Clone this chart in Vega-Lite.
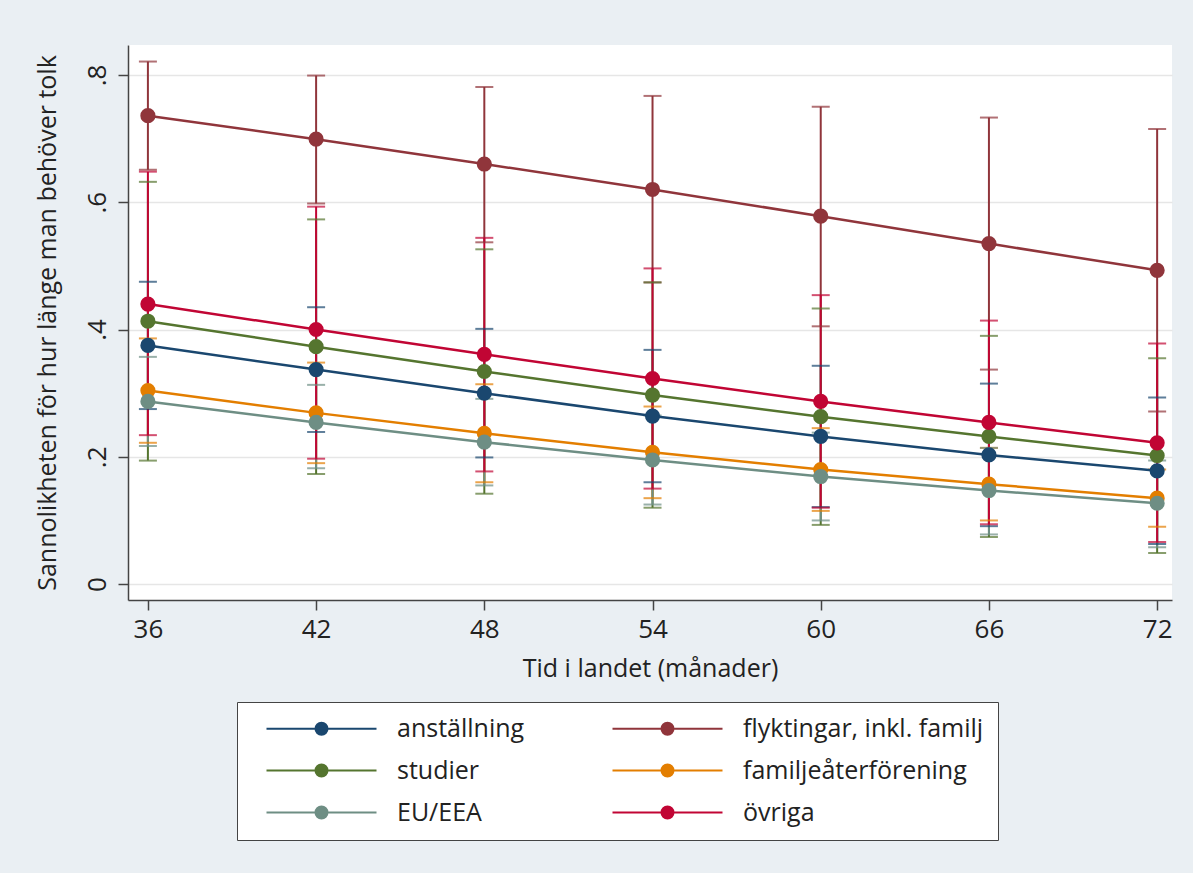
{
  "$schema": "https://vega.github.io/schema/vega-lite/v6.json",
  "width": 1044,
  "height": 555,
  "autosize": "none",
  "padding": {"left": 128, "top": 45, "right": 21, "bottom": 273},
  "background": "#eaeff3",
  "config": {
    "view": {"fill": "white", "stroke": null},
    "font": "Open Sans",
    "axis": {"labelColor": "#222", "titleColor": "#222", "domainColor": "#444", "tickColor": "#444", "domainWidth": 1.5, "tickWidth": 1.5, "tickSize": 10, "labelFontWeight": "normal", "titleFontWeight": "normal"}
  },
  "data": {"values": [
    {"g": "anställning", "t": 36, "p": 0.375, "lo": 0.275, "hi": 0.475},
    {"g": "anställning", "t": 42, "p": 0.337, "lo": 0.239, "hi": 0.435},
    {"g": "anställning", "t": 48, "p": 0.300, "lo": 0.199, "hi": 0.401},
    {"g": "anställning", "t": 54, "p": 0.264, "lo": 0.160, "hi": 0.368},
    {"g": "anställning", "t": 60, "p": 0.232, "lo": 0.121, "hi": 0.343},
    {"g": "anställning", "t": 66, "p": 0.203, "lo": 0.091, "hi": 0.315},
    {"g": "anställning", "t": 72, "p": 0.178, "lo": 0.063, "hi": 0.293},
    {"g": "flyktingar, inkl. familj", "t": 36, "p": 0.736, "lo": 0.651, "hi": 0.821},
    {"g": "flyktingar, inkl. familj", "t": 42, "p": 0.699, "lo": 0.598, "hi": 0.799},
    {"g": "flyktingar, inkl. familj", "t": 48, "p": 0.660, "lo": 0.537, "hi": 0.781},
    {"g": "flyktingar, inkl. familj", "t": 54, "p": 0.620, "lo": 0.474, "hi": 0.767},
    {"g": "flyktingar, inkl. familj", "t": 60, "p": 0.578, "lo": 0.405, "hi": 0.750},
    {"g": "flyktingar, inkl. familj", "t": 66, "p": 0.535, "lo": 0.337, "hi": 0.733},
    {"g": "flyktingar, inkl. familj", "t": 72, "p": 0.493, "lo": 0.271, "hi": 0.715},
    {"g": "studier", "t": 36, "p": 0.413, "lo": 0.194, "hi": 0.632},
    {"g": "studier", "t": 42, "p": 0.373, "lo": 0.173, "hi": 0.573},
    {"g": "studier", "t": 48, "p": 0.334, "lo": 0.142, "hi": 0.526},
    {"g": "studier", "t": 54, "p": 0.297, "lo": 0.120, "hi": 0.474},
    {"g": "studier", "t": 60, "p": 0.263, "lo": 0.093, "hi": 0.433},
    {"g": "studier", "t": 66, "p": 0.232, "lo": 0.074, "hi": 0.390},
    {"g": "studier", "t": 72, "p": 0.202, "lo": 0.049, "hi": 0.355},
    {"g": "familjeåterförening", "t": 36, "p": 0.304, "lo": 0.222, "hi": 0.386},
    {"g": "familjeåterförening", "t": 42, "p": 0.269, "lo": 0.190, "hi": 0.348},
    {"g": "familjeåterförening", "t": 48, "p": 0.237, "lo": 0.160, "hi": 0.314},
    {"g": "familjeåterförening", "t": 54, "p": 0.207, "lo": 0.135, "hi": 0.279},
    {"g": "familjeåterförening", "t": 60, "p": 0.180, "lo": 0.115, "hi": 0.245},
    {"g": "familjeåterförening", "t": 66, "p": 0.157, "lo": 0.100, "hi": 0.214},
    {"g": "familjeåterförening", "t": 72, "p": 0.135, "lo": 0.090, "hi": 0.180},
    {"g": "EU/EEA", "t": 36, "p": 0.287, "lo": 0.217, "hi": 0.357},
    {"g": "EU/EEA", "t": 42, "p": 0.254, "lo": 0.182, "hi": 0.313},
    {"g": "EU/EEA", "t": 48, "p": 0.223, "lo": 0.155, "hi": 0.291},
    {"g": "EU/EEA", "t": 54, "p": 0.195, "lo": 0.125, "hi": 0.265},
    {"g": "EU/EEA", "t": 60, "p": 0.169, "lo": 0.100, "hi": 0.238},
    {"g": "EU/EEA", "t": 66, "p": 0.147, "lo": 0.078, "hi": 0.214},
    {"g": "EU/EEA", "t": 72, "p": 0.127, "lo": 0.058, "hi": 0.194},
    {"g": "övriga", "t": 36, "p": 0.440, "lo": 0.234, "hi": 0.648},
    {"g": "övriga", "t": 42, "p": 0.400, "lo": 0.197, "hi": 0.593},
    {"g": "övriga", "t": 48, "p": 0.361, "lo": 0.177, "hi": 0.544},
    {"g": "övriga", "t": 54, "p": 0.323, "lo": 0.150, "hi": 0.496},
    {"g": "övriga", "t": 60, "p": 0.287, "lo": 0.120, "hi": 0.454},
    {"g": "övriga", "t": 66, "p": 0.254, "lo": 0.094, "hi": 0.414},
    {"g": "övriga", "t": 72, "p": 0.222, "lo": 0.066, "hi": 0.378}
  ]},
  "encoding": {
    "x": {"field": "t", "type": "quantitative",
      "scale": {"domain": [35.29, 72.53], "nice": false, "zero": false},
      "axis": {"values": [36, 42, 48, 54, 60, 66, 72], "grid": false, "title": "Tid i landet (månader)", "labelFontSize": 26, "titleFontSize": 25, "labelPadding": 6, "titlePadding": 14}},
    "color": {"field": "g", "type": "nominal",
      "scale": {"domain": ["anställning", "studier", "EU/EEA", "flyktingar, inkl. familj", "familjeåterförening", "övriga"],
                "range": ["#1a476f", "#55752f", "#6e8e84", "#90353b", "#e37e00", "#c10534"]},
      "legend": {"orient": "none", "legendX": 109, "legendY": 657, "columns": 2, "columnPadding": 72, "rowPadding": 16,
        "title": null, "labelFontSize": 25, "labelColor": "#222", "labelOffset": 121, "labelLimit": 500,
        "symbolType": "M3,0L113,0M52,0A6,6,0,1,0,64,0A6,6,0,1,0,52,0Z",
        "symbolSize": 4, "symbolStrokeWidth": 2,
        "fillColor": "white", "strokeColor": "#444", "padding": 14,
        "encode": {"symbols": {"update": {"fill": {"scale": "color", "field": "value"}, "stroke": {"scale": "color", "field": "value"}, "opacity": {"value": 1}}}}
      }
    }
  },
  "layer": [
    {"mark": {"type": "rule", "strokeWidth": 2},
     "encoding": {"y": {"field": "lo", "type": "quantitative"}, "y2": {"field": "hi"}}},
    {"mark": {"type": "tick", "orient": "horizontal", "size": 18, "thickness": 2},
     "encoding": {"y": {"field": "lo", "type": "quantitative"}}},
    {"mark": {"type": "tick", "orient": "horizontal", "size": 18, "thickness": 2},
     "encoding": {"y": {"field": "hi", "type": "quantitative"}}},
    {"mark": {"type": "line", "strokeWidth": 2.5},
     "encoding": {"y": {"field": "p", "type": "quantitative"}}},
    {"mark": {"type": "point", "filled": true, "size": 230, "opacity": 1},
     "encoding": {"y": {"field": "p", "type": "quantitative",
       "scale": {"domain": [-0.025, 0.847], "nice": false, "zero": false},
       "axis": {"values": [0, 0.2, 0.4, 0.6, 0.8], "grid": true, "gridColor": "#e6e6e6", "gridWidth": 1.5,
         "labelExpr": "datum.value == 0 ? '0' : replace(format(datum.value, '.1f'), '0.', '.')",
         "labelAngle": 270, "labelAlign": "center", "labelBaseline": "bottom", "labelFontSize": 26, "labelPadding": 8,
         "title": "Sannolikheten för hur länge man behöver tolk", "titleFontSize": 25, "titlePadding": 24}}}}
  ]
}
